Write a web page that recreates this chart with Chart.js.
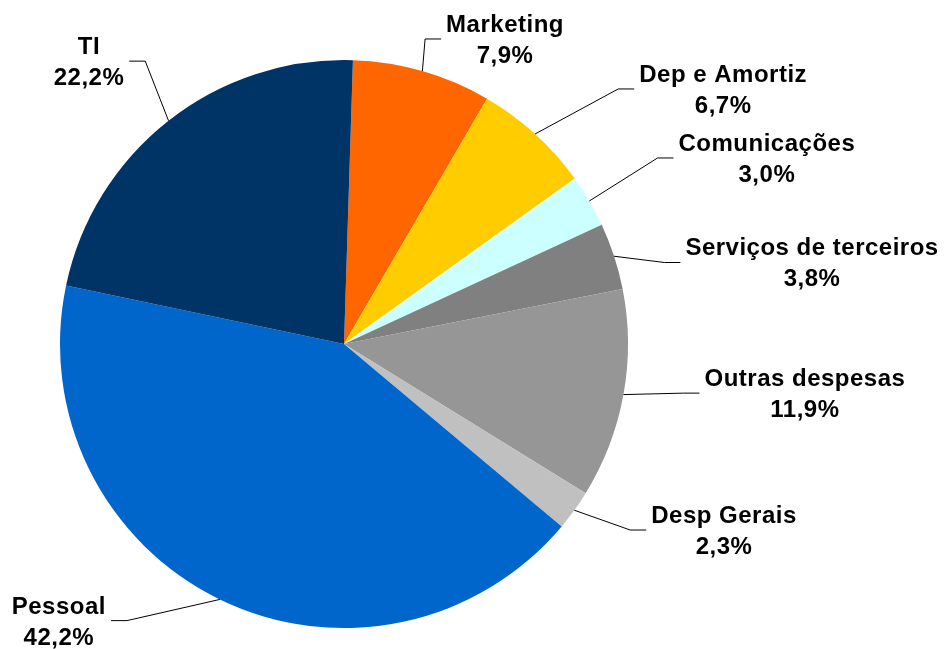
<!DOCTYPE html>
<html>
<head>
<meta charset="utf-8">
<script src="https://cdn.jsdelivr.net/npm/chart.js@4"></script>
<style>
  html, body { margin: 0; padding: 0; background: #ffffff; }
  #wrap { width: 945px; height: 649px; }
</style>
</head>
<body>
<div id="wrap"><canvas id="pie-canvas"></canvas></div>
<script>
const categories = ["Marketing", "Dep e Amortiz", "Comunicações", "Serviços de terceiros",
  "Outras despesas", "Desp Gerais", "Pessoal", "TI"];
const shares = [7.9, 6.7, 3.0, 3.8, 11.9, 2.3, 42.2, 22.2];
const sliceColors = ["#FF6600", "#FFCC00", "#CCFFFF", "#808080",
  "#969696", "#C0C0C0", "#0066CC", "#003366"];

// where each label box sits, measured in pie radii from the centre
const labelSpots = [
  [0.567, -1.074], [1.335, -0.898], [1.489, -0.655], [1.648, -0.287],
  [1.623, 0.173], [1.338, 0.655], [-1.004, 0.974], [-0.898, -0.996],
];

function pct(v) {
  return v.toFixed(1).replace(".", ",") + "%";
}

const outsideLabels = {
  id: "outsideLabels",
  afterDatasetsDraw(chart) {
    const ctx = chart.ctx;
    const arcs = chart.getDatasetMeta(0).data;
    ctx.save();
    ctx.font = "bold 24px 'Liberation Sans', Arial, sans-serif";
    ctx.letterSpacing = "0.5px";
    ctx.fillStyle = "#000000";
    ctx.strokeStyle = "#000000";
    ctx.lineWidth = 1;
    ctx.textAlign = "center";
    ctx.textBaseline = "alphabetic";

    arcs.forEach((arc, i) => {
      const p = arc.getProps(["x", "y", "startAngle", "endAngle", "outerRadius"], true);
      const mid = (p.startAngle + p.endAngle) / 2;
      const ax = p.x + Math.cos(mid) * p.outerRadius;
      const ay = p.y + Math.sin(mid) * p.outerRadius;

      const cx = p.x + labelSpots[i][0] * p.outerRadius;
      const cy = p.y + labelSpots[i][1] * p.outerRadius;
      const line1 = categories[i];
      const line2 = pct(shares[i]);
      const w = Math.max(ctx.measureText(line1).width, ctx.measureText(line2).width);

      // attach to the side of the box that faces the slice
      const side = ax < cx ? -1 : 1;
      const edgeX = cx + side * (w / 2 + 5);
      const elbowX = edgeX + side * 16;

      ctx.beginPath();
      ctx.moveTo(ax, ay);
      ctx.lineTo(elbowX, cy);
      ctx.lineTo(edgeX, cy);
      ctx.stroke();

      ctx.fillText(line1, cx, cy - 7);
      ctx.fillText(line2, cx, cy + 24);
    });
    ctx.restore();
  }
};

const ctx = document.getElementById("pie-canvas").getContext("2d");

new Chart(ctx, {
  type: "pie",
  plugins: [outsideLabels],
  data: {
    labels: categories,
    datasets: [
      {
        data: shares,
        backgroundColor: sliceColors,
        borderWidth: 0,
      },
    ],
  },
  options: {
    responsive: true,
    maintainAspectRatio: false,
    animation: false,
    rotation: 1.8,
    layout: {
      padding: { left: 60, top: 60, right: 317, bottom: 21 },
    },
    plugins: {
      legend: { display: false },
      tooltip: { enabled: false },
    },
  },
});
</script>
</body>
</html>
